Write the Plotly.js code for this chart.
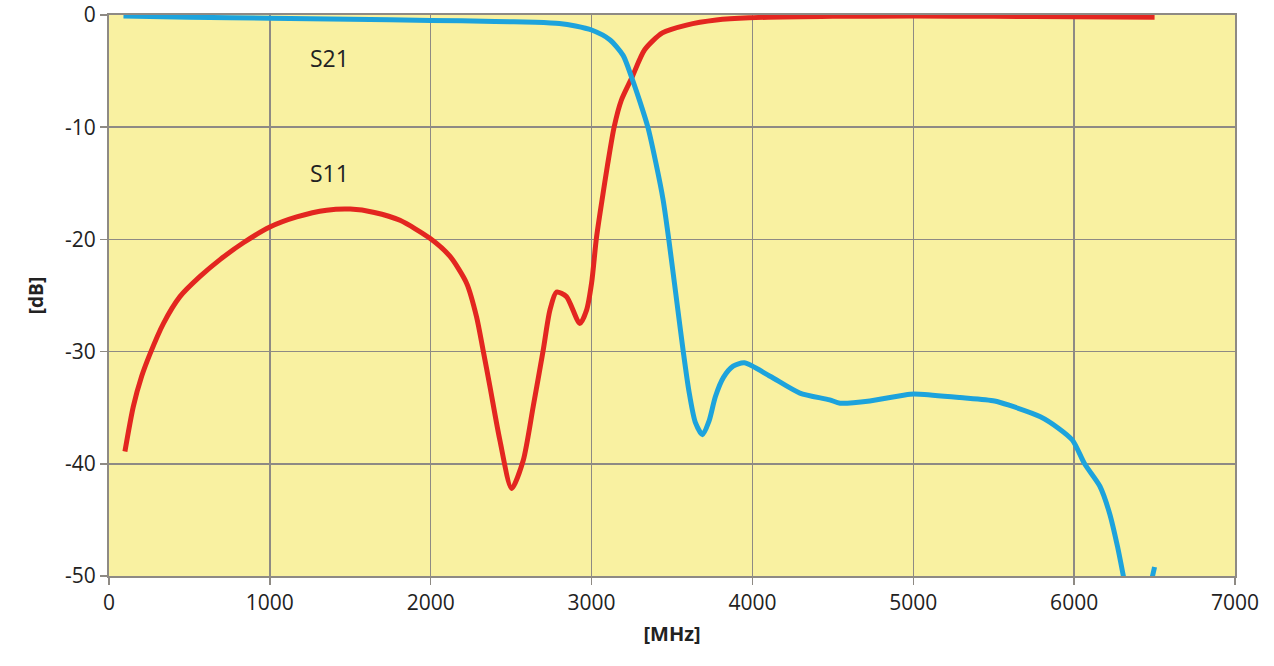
<!DOCTYPE html>
<html>
<head>
<meta charset="utf-8">
<script src="https://cdn.plot.ly/plotly-3.0.1.min.js"></script>
<style>html,body{margin:0;padding:0;background:#fff;}#chart{width:1274px;height:666px;}</style>
</head>
<body>
<div id="chart"></div>
<script>
const s11Freq = [99, 151, 203, 255, 338, 441, 566, 690, 835, 1000, 1167, 1353, 1500, 1650, 1809, 1995, 2119, 2223, 2285, 2326, 2368, 2430, 2503, 2575, 2637, 2699, 2741, 2782, 2844, 2927, 2969, 3000, 3030, 3065, 3100, 3140, 3185, 3250, 3330, 3440, 3590, 3775, 3980, 4500, 5000, 5500, 6000, 6500];
const s11Vals = [-38.9, -34.9, -32.2, -30.2, -27.5, -25.1, -23.3, -21.8, -20.3, -18.9, -18.0, -17.4, -17.3, -17.6, -18.3, -19.9, -21.5, -23.9, -26.9, -29.9, -33.1, -37.9, -42.2, -39.7, -34.9, -29.9, -26.3, -24.7, -25.1, -27.5, -26.3, -23.9, -19.9, -16.5, -13.3, -10, -7.6, -5.6, -3.1, -1.6, -0.9, -0.45, -0.25, -0.12, -0.1, -0.12, -0.15, -0.2];

const s21Freq = [90, 500, 1000, 1500, 2000, 2400, 2650, 2800, 2900, 3000, 3113, 3196, 3250, 3300, 3350, 3400, 3445, 3480, 3525, 3570, 3605, 3645, 3690, 3730, 3770, 3820, 3880, 3950, 4110, 4295, 4480, 4545, 4730, 4980, 5040, 5290, 5505, 5600, 5790, 5900, 5990, 6065, 6160, 6220, 6270, 6310, 6360, 6420, 6480, 6500];
const s21Vals = [-0.1, -0.2, -0.28, -0.38, -0.48, -0.57, -0.65, -0.76, -0.98, -1.34, -2.2, -3.6, -5.6, -7.7, -10, -13.2, -16.5, -20, -25, -30, -33.5, -36.3, -37.4, -36.2, -34, -32.3, -31.3, -31.0, -32.2, -33.7, -34.3, -34.6, -34.4, -33.8, -33.8, -34.1, -34.4, -34.8, -35.8, -36.8, -37.9, -40, -42, -44.4, -47.4, -50.3, -54, -55, -50.5, -49.2];

const xTicks = [0, 1000, 2000, 3000, 4000, 5000, 6000, 7000];
const yTicks = [0, -10, -20, -30, -40, -50];
const labels = [{text: 'S21', x: 1370, y: -3.8}, {text: 'S11', x: 1370, y: -14.1}];

const fam = 'Open Sans, Liberation Sans, sans-serif';
const tickFont = {family: fam, size: 21, color: '#222'};

const traces = [
  {x: s11Freq, y: s11Vals, mode: 'lines', line: {color: '#E32620', width: 5, shape: 'spline', smoothing: 0.7}, name: 'S11', hoverinfo: 'x+y'},
  {x: s21Freq, y: s21Vals, mode: 'lines', line: {color: '#1DA3DC', width: 5, shape: 'spline', smoothing: 0.7}, name: 'S21', hoverinfo: 'x+y'}
];

const layout = {
  width: 1274, height: 666,
  margin: {l: 109, r: 39, t: 15, b: 90},
  paper_bgcolor: '#ffffff',
  plot_bgcolor: '#F9F1A1',
  showlegend: false,
  xaxis: {
    range: [0, 7000], tickvals: xTicks, ticktext: xTicks.map(String),
    showgrid: true, gridcolor: '#8E8A84', gridwidth: 1.5,
    zeroline: false, showline: true, linecolor: '#8E8A84', linewidth: 2, mirror: true,
    ticks: 'outside', ticklen: 7, tickcolor: '#8E8A84', tickwidth: 1.5,
    tickfont: tickFont,
    title: {text: '[MHz]', font: {family: fam, size: 20, color: '#222', weight: 'bold'}, standoff: 12}
  },
  yaxis: {
    range: [-50, 0], tickvals: yTicks, ticktext: yTicks.map(String),
    showgrid: true, gridcolor: '#8E8A84', gridwidth: 1.5,
    zeroline: false, showline: true, linecolor: '#8E8A84', linewidth: 2, mirror: true,
    ticks: 'outside', ticklen: 7, tickcolor: '#8E8A84', tickwidth: 1.5,
    tickfont: tickFont,
    title: {text: '[dB]', font: {family: fam, size: 19, color: '#222', weight: 'bold'}, standoff: 16}
  },
  annotations: labels.map(l => ({
    text: l.text, x: l.x, y: l.y, xref: 'x', yref: 'y', showarrow: false,
    font: {family: fam, size: 23, color: '#222'}
  }))
};

Plotly.newPlot('chart', traces, layout, {displayModeBar: false, staticPlot: true});
</script>
</body>
</html>
